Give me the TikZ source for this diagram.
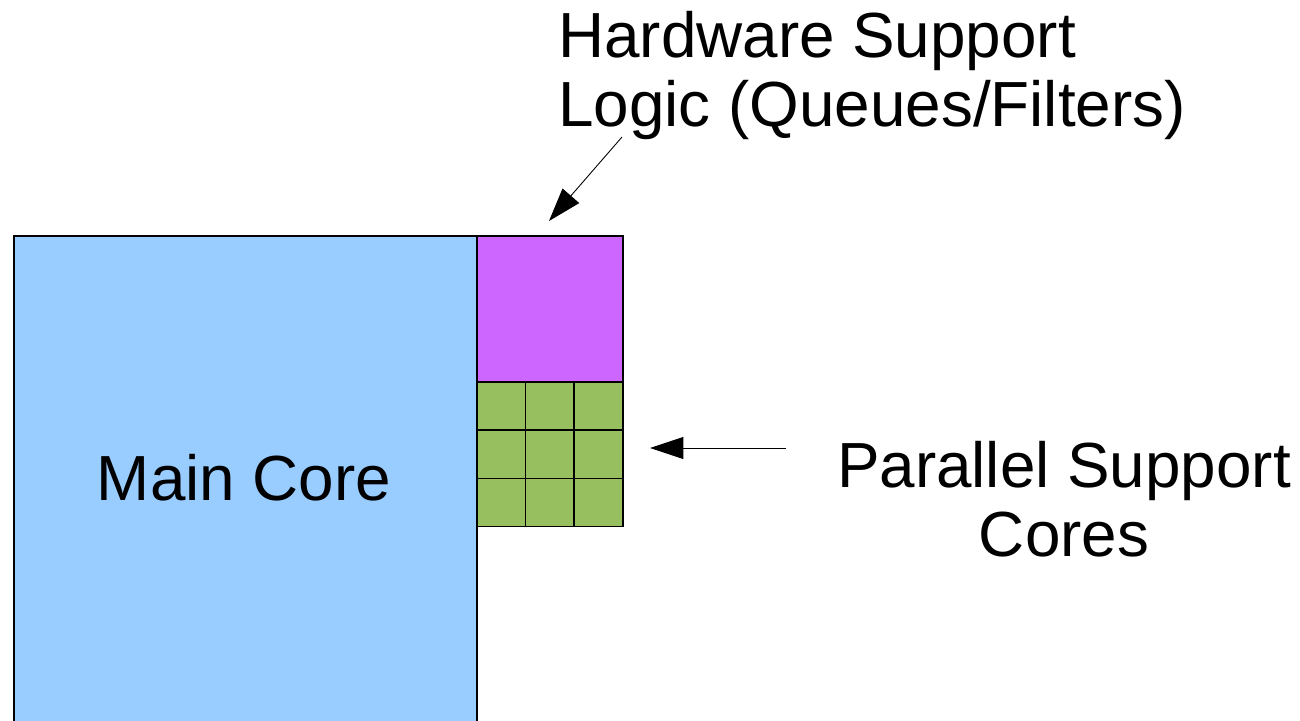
\documentclass[tikz,border=0pt]{standalone}
\usepackage{fontspec}
\setmainfont{Liberation Sans}
\usetikzlibrary{arrows.meta}
\definecolor{coreblue}{HTML}{99CCFF}
\definecolor{logicpurple}{HTML}{CC66FF}
\definecolor{cellgreen}{HTML}{97BF60}
\tikzset{
  block/.style={rectangle, draw=black, line width=0.9pt, inner sep=0pt, anchor=north west},
  cell/.style={block, fill=cellgreen, minimum width=48.7*0.02cm, minimum height=48.3*0.02cm},
  label/.style={inner sep=0pt, font=\fontsize{36.3}{39}\selectfont},
  pointer/.style={-{Triangle[length=19pt,width=12.5pt]}, line width=0.5pt}
}
\begin{document}
\begin{tikzpicture}[x=0.02cm, y=-0.02cm]
\useasboundingbox (0,0) rectangle (1300,720);
\clip (0,0) rectangle (1300,720);
\node[block, fill=coreblue, minimum width=463*0.02cm, minimum height=520*0.02cm] (main) at (13,235){};
\node[label] (maintext) at (244,478){Main Core};
\node[block, fill=logicpurple, minimum width=146*0.02cm, minimum height=146*0.02cm] (logic) at (476,235){};
\foreach \r in {0,1,2}{
  \foreach \c in {0,1,2}{
    \node[cell] (cell\r\c) at (476+48.7*\c,381+48.3*\r){};
  }
}
\node[label, anchor=north west, align=left] (hwtext) at (558,11){Hardware Support\\Logic (Queues/Filters)};
\node[label, anchor=north, align=center] (partext) at (1064,441){Parallel Support\\Cores};
\coordinate (hwtail) at (622,137);
\coordinate (hwtip) at (549,221);
\coordinate (partail) at (786,448);
\coordinate (partip) at (650,448);
\draw[pointer] (hwtail) -- (hwtip);
\draw[pointer] (partail) -- (partip);
\end{tikzpicture}
\end{document}
